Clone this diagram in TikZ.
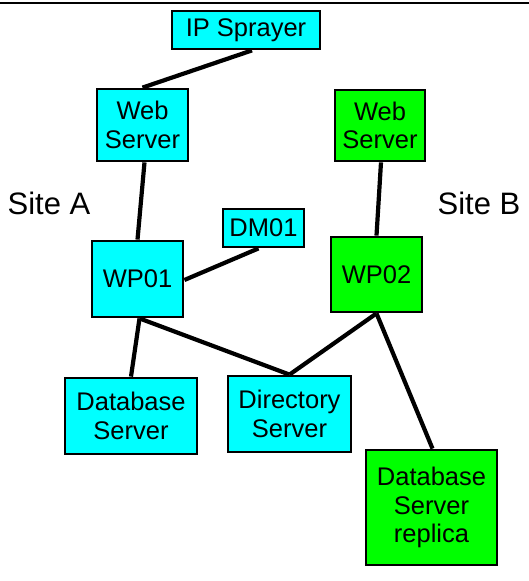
\documentclass[tikz,border=0pt]{standalone}
\usepackage{fontspec}
\setmainfont{Liberation Sans}
\usetikzlibrary{positioning}
\definecolor{siteA}{RGB}{0,255,255}
\definecolor{siteB}{RGB}{0,255,0}

\begin{document}
\begin{tikzpicture}[x=1pt,y=-1pt,
  server/.style={draw, line width=2.8pt, align=center, inner sep=0pt,
                 font=\fontsize{25.5}{28.5}\selectfont},
  siteanode/.style={server, fill=siteA},
  sitebnode/.style={server, fill=siteB},
  sitelabel/.style={font=\fontsize{31}{34}\selectfont},
  link/.style={line width=4.2pt}]
  \useasboundingbox (0,0) rectangle (529,581);
  \draw[line width=1.5pt] (0,3) -- (529,3);
  % site A
  \node[siteanode, minimum width=148, minimum height=38] (sprayer) at (246,30) {IP Sprayer};
  \node[siteanode, minimum width=91, minimum height=72] (webA) at (142.5,125) {Web\\Server};
  \node[siteanode, minimum width=81, minimum height=38] (dm) at (263.5,228) {DM01};
  \node[siteanode, minimum width=91, minimum height=76] (wpA) at (137.5,279) {WP01};
  \node[siteanode, minimum width=132, minimum height=76] (dbA) at (131,416) {Database\\Server};
  \node[siteanode, minimum width=123, minimum height=76] (dir) at (289.5,414) {Directory\\Server};
  \node[sitelabel] (siteA) at (49,203) {Site A};
  % site B
  \node[sitebnode, minimum width=90, minimum height=71] (webB) at (380,125.5) {Web\\Server};
  \node[sitebnode, minimum width=91, minimum height=75] (wpB) at (376.5,274.5) {WP02};
  \node[sitebnode, minimum width=131, minimum height=115] (replica) at (431.5,507.5) {Database\\Server\\replica};
  \node[sitelabel] (siteB) at (479,203) {Site B};
  % links
  \draw[link] ([xshift=6pt]sprayer.south) -- (webA.north);
  \draw[link] ([xshift=2pt]webA.south) -- (wpA.north);
  \draw[link] ([xshift=-5pt]dm.south) -- ([yshift=-1pt]wpA.east);
  \draw[link] ([xshift=1pt]webB.south) -- (wpB.north);
  \draw[link] ([xshift=2pt]wpA.south) -- (dbA.north);
  \draw[link] ([xshift=2pt]wpA.south) -- (dir.north);
  \draw[link] (wpB.south) -- (dir.north);
  \draw[link] (wpB.south) -- ([xshift=1pt]replica.north);
\end{tikzpicture}
\end{document}
